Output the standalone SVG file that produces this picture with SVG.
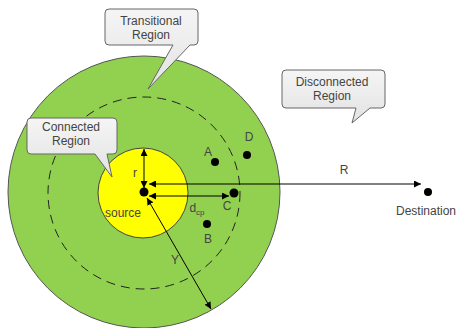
<svg xmlns="http://www.w3.org/2000/svg" width="458" height="328" viewBox="0 0 458 328">
<defs>
<linearGradient id="cg" x1="0" y1="0" x2="0" y2="1">
<stop offset="0" stop-color="#f5f5f5"/>
<stop offset="1" stop-color="#e2e2e2"/>
</linearGradient>
<marker id="ah" viewBox="0 0 10 10" refX="10" refY="5" markerWidth="7" markerHeight="7" markerUnits="userSpaceOnUse" orient="auto-start-reverse">
<path d="M0,0 L10,5 L0,10 Z" fill="#000"/>
</marker>
</defs>
<style>
.t{font-family:"Liberation Sans",Arial,sans-serif;font-size:12px;fill:#444;text-anchor:middle}
.call{fill:url(#cg);stroke:#666;stroke-width:1}
.dot{fill:#000}
.arr{stroke:#000;stroke-width:1;fill:none;marker-start:url(#ah);marker-end:url(#ah)}
</style>
<rect width="458" height="328" fill="#fff"/>
<g id="transitional-region">
<circle cx="144" cy="192" r="136" fill="#92d050" stroke="#555" stroke-width="1"/>
<circle cx="144" cy="193" r="96" fill="none" stroke="#222" stroke-width="1" stroke-dasharray="9,6"/>
</g>
<g id="connected-region">
<circle cx="143" cy="193" r="45" fill="#ffff00" stroke="#444" stroke-width="1"/>
</g>
<g id="connectors">
<line class="arr" x1="144" y1="149" x2="144" y2="188"/>
<line class="arr" x1="149" y1="184" x2="421" y2="184"/>
<line class="arr" x1="149" y1="196" x2="229" y2="196"/>
<line class="arr" x1="147" y1="198" x2="211" y2="309"/>
</g>
<g id="source">
<circle class="dot" cx="144" cy="192" r="4.5"/>
<text class="t" x="123" y="217">source</text>
</g>
<g id="node-A"><circle class="dot" cx="215" cy="162" r="4"/><text class="t" x="208" y="156">A</text></g>
<g id="node-D"><circle class="dot" cx="247" cy="155" r="4"/><text class="t" x="249" y="141">D</text></g>
<g id="node-C"><circle class="dot" cx="234" cy="193" r="4.5"/><text class="t" x="227" y="210">C</text></g>
<g id="node-B"><circle class="dot" cx="207" cy="224" r="4"/><text class="t" x="208" y="243">B</text></g>
<g id="destination"><circle class="dot" cx="428" cy="192" r="4"/><text class="t" x="426" y="215">Destination</text></g>
<g id="labels">
<text class="t" x="135" y="177">r</text>
<text class="t" x="344" y="174">R</text>
<text class="t" x="175" y="264">Y</text>
<text class="t" x="197" y="212">d<tspan font-size="8" dy="3">cp</tspan></text>
</g>
<g id="callout-transitional">
<path class="call" d="M109,9 H194 Q198,9 198,13 V41 Q198,45 194,45 H190 L148,89 L173,45 H109 Q105,45 105,41 V13 Q105,9 109,9 Z"/>
<text class="t" x="151" y="25">Transitional</text>
<text class="t" x="151" y="39">Region</text>
</g>
<g id="callout-disconnected">
<path class="call" d="M286,70 H381 Q385,70 385,74 V104 Q385,108 381,108 H370 L352,123 L356,108 H286 Q282,108 282,104 V74 Q282,70 286,70 Z"/>
<text class="t" x="332" y="86">Disconnected</text>
<text class="t" x="332" y="100">Region</text>
</g>
<g id="callout-connected">
<path class="call" d="M31,118 H113 Q117,118 117,122 V150 Q117,154 113,154 H107 L112,177 L95,154 H31 Q27,154 27,150 V122 Q27,118 31,118 Z"/>
<text class="t" x="71" y="131">Connected</text>
<text class="t" x="71" y="145">Region</text>
</g>
</svg>
